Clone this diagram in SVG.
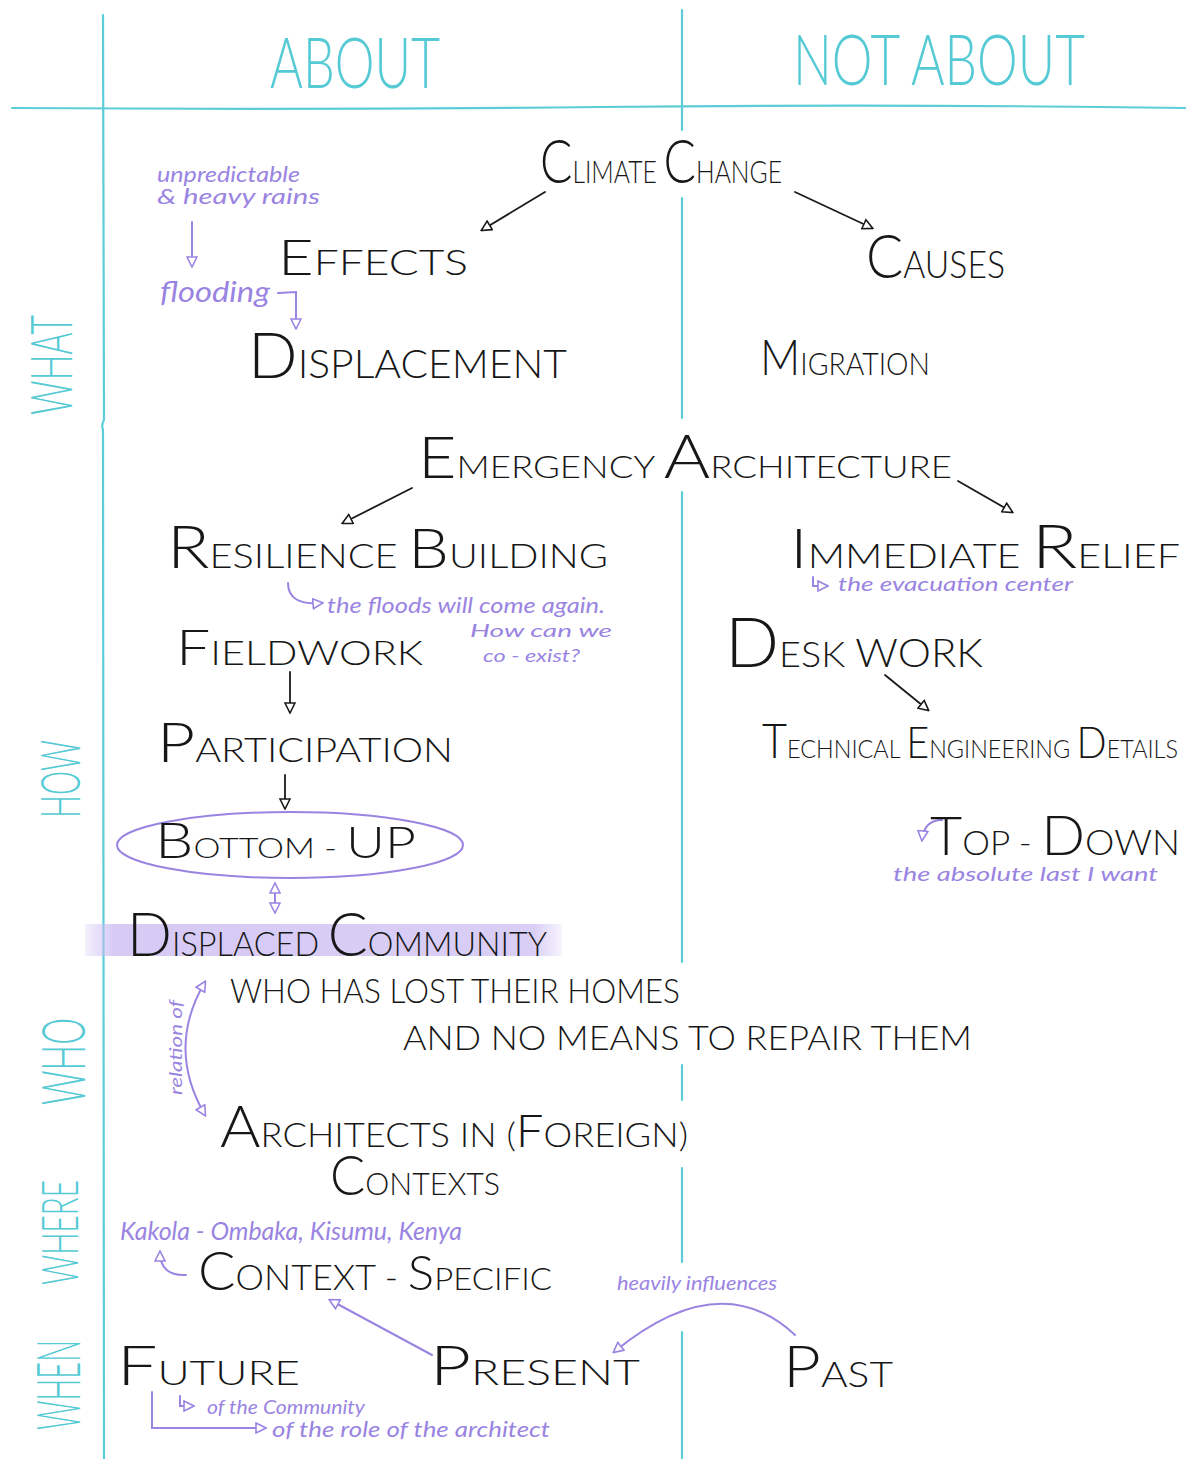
<svg xmlns="http://www.w3.org/2000/svg" width="1189" height="1459" viewBox="0 0 1189 1459">
<style>
.k{font-family:Lato,"Open Sans","DejaVu Sans",sans-serif;font-weight:300;fill:#171717}
.p{font-family:Lato,"Open Sans","DejaVu Sans",sans-serif;font-weight:400;font-style:italic;fill:#9a84e2}
.c{font-family:Lato,"Open Sans","DejaVu Sans",sans-serif;font-weight:300;fill:#55cad5}
.grid{stroke:#5ccdd7;stroke-width:2.2;fill:none;stroke-linecap:round}
.ak{stroke:#1a1a1a;stroke-width:1.8;fill:none;stroke-linecap:round}
.ap{stroke:#9a84e2;stroke-width:2;fill:none;stroke-linecap:round}
</style>
<defs>
<marker id="hk" viewBox="0 0 12 12" refX="10" refY="6" markerWidth="12" markerHeight="12" markerUnits="userSpaceOnUse" orient="auto">
<path d="M1,1 L11,6 L1,11 z" fill="#fff" stroke="#1a1a1a" stroke-width="1.6"/>
</marker>
<marker id="hp" viewBox="0 0 12 12" refX="10" refY="6" markerWidth="12" markerHeight="12" markerUnits="userSpaceOnUse" orient="auto-start-reverse">
<path d="M1,1 L11,6 L1,11 z" fill="#fff" stroke="#9a84e2" stroke-width="1.6"/>
</marker>
<linearGradient id="hl" x1="0" x2="1" y1="0" y2="0">
<stop offset="0" stop-color="#c9b9f2" stop-opacity="0.2"/>
<stop offset="0.06" stop-color="#c9b9f2" stop-opacity="0.75"/>
<stop offset="0.94" stop-color="#c9b9f2" stop-opacity="0.7"/>
<stop offset="1" stop-color="#c9b9f2" stop-opacity="0.15"/>
</linearGradient>
</defs>
<rect width="1189" height="1459" fill="#fff"/>

<g id="grid">
<path class="grid" d="M12,108 Q300,110 600,107 T1185,108"/>
<path class="grid" d="M103,15 L104,420 Q101,425 103,430 L104,1459"/>
<path class="grid" d="M682,10 L682,130 M682,198 L682,418 M682,492 L682,962 M682,1065 L682,1100 M682,1168 L682,1262 M682,1332 L682,1459"/>
</g>

<g id="headers">
<text class="c" x="270" y="88" font-size="70" textLength="170" lengthAdjust="spacingAndGlyphs">ABOUT</text>
<text class="c" x="793" y="85" font-size="70" textLength="292" lengthAdjust="spacingAndGlyphs">NOT ABOUT</text>
</g>

<g id="rows">
<text class="c" transform="translate(72,415) rotate(-90)" font-size="58" textLength="100" lengthAdjust="spacingAndGlyphs">WHAT</text>
<text class="c" transform="translate(80,818) rotate(-90)" font-size="56" textLength="78" lengthAdjust="spacingAndGlyphs">HOW</text>
<text class="c" transform="translate(85,1105) rotate(-90)" font-size="62" textLength="87" lengthAdjust="spacingAndGlyphs">WHO</text>
<text class="c" transform="translate(78,1285) rotate(-90)" font-size="52" textLength="105" lengthAdjust="spacingAndGlyphs">WHERE</text>
<text class="c" transform="translate(80,1430) rotate(-90)" font-size="62" textLength="90" lengthAdjust="spacingAndGlyphs">WHEN</text>
</g>

<rect id="highlight" x="85" y="924" width="477" height="32" fill="url(#hl)"/>

<g id="connectors">
<line class="ak" x1="545" y1="192" x2="482" y2="230" marker-end="url(#hk)"/>
<line class="ak" x1="795" y1="192" x2="872" y2="228" marker-end="url(#hk)"/>
<line class="ak" x1="412" y1="488" x2="343" y2="523" marker-end="url(#hk)"/>
<line class="ak" x1="958" y1="481" x2="1012" y2="512" marker-end="url(#hk)"/>
<line class="ak" x1="290" y1="672" x2="290" y2="712" marker-end="url(#hk)"/>
<line class="ak" x1="285" y1="775" x2="285" y2="808" marker-end="url(#hk)"/>
<line class="ak" x1="885" y1="675" x2="928" y2="710" marker-end="url(#hk)"/>
<line class="ap" x1="192" y1="222" x2="192" y2="266" marker-end="url(#hp)"/>
<path class="ap" d="M278,293 L296,292 L296,328" marker-end="url(#hp)"/>
<path class="ap" d="M288,583 Q288,606 322,603" marker-end="url(#hp)"/>
<path class="ap" d="M813,577 L813,586 L827,586" marker-end="url(#hp)" stroke-width="1.6"/>
<path class="ap" d="M942,820 Q924,820 922,840" marker-end="url(#hp)"/>
<line class="ap" x1="275" y1="884" x2="275" y2="912" marker-start="url(#hp)" marker-end="url(#hp)"/>
<path class="ap" d="M205,982 Q166,1048 205,1115" marker-start="url(#hp)" marker-end="url(#hp)"/>
<path class="ap" d="M186,1275 Q160,1276 160,1252" marker-end="url(#hp)"/>
<line class="ap" x1="432" y1="1355" x2="330" y2="1300" marker-end="url(#hp)"/>
<path class="ap" d="M795,1335 Q720,1265 614,1352" marker-end="url(#hp)"/>
<path class="ap" d="M152,1392 L152,1428 L265,1428" marker-end="url(#hp)"/>
<path class="ap" d="M180,1396 L180,1406 L193,1406" marker-end="url(#hp)" stroke-width="1.6"/>
</g>

<g id="climate-change"><text class="k" x="540" y="183" textLength="242" lengthAdjust="spacingAndGlyphs"><tspan font-size="62">C</tspan><tspan font-size="32">LIMATE </tspan><tspan font-size="62">C</tspan><tspan font-size="32">HANGE</tspan></text></g>
<g id="effects"><text class="k" x="278" y="275" textLength="190" lengthAdjust="spacingAndGlyphs"><tspan font-size="50">E</tspan><tspan font-size="36">FFECTS</tspan></text></g>
<g id="causes"><text class="k" x="866" y="278" textLength="139" lengthAdjust="spacingAndGlyphs"><tspan font-size="62">C</tspan><tspan font-size="38">AUSES</tspan></text></g>
<g id="rains-note">
<text class="p" x="157" y="182" font-size="22" textLength="143" lengthAdjust="spacingAndGlyphs">unpredictable</text>
<text class="p" x="157" y="204" font-size="22" textLength="163" lengthAdjust="spacingAndGlyphs">&amp; heavy rains</text>
<text class="p" x="160" y="302" font-size="28" textLength="110" lengthAdjust="spacingAndGlyphs">flooding</text>
</g>
<g id="displacement"><text class="k" x="248" y="378" textLength="319" lengthAdjust="spacingAndGlyphs"><tspan font-size="64">D</tspan><tspan font-size="40">ISPLACEMENT</tspan></text></g>
<g id="migration"><text class="k" x="760" y="375" textLength="170" lengthAdjust="spacingAndGlyphs"><tspan font-size="50">M</tspan><tspan font-size="32">IGRATION</tspan></text></g>
<g id="emergency-architecture"><text class="k" x="418" y="478" textLength="534" lengthAdjust="spacingAndGlyphs"><tspan font-size="58">E</tspan><tspan font-size="32">MERGENCY </tspan><tspan font-size="62">A</tspan><tspan font-size="32">RCHITECTURE</tspan></text></g>
<g id="resilience-building">
<text class="k" x="167" y="568" textLength="441" lengthAdjust="spacingAndGlyphs"><tspan font-size="60">R</tspan><tspan font-size="34">ESILIENCE </tspan><tspan font-size="55">B</tspan><tspan font-size="34">UILDING</tspan></text>
<text class="p" x="327" y="613" font-size="22" textLength="278" lengthAdjust="spacingAndGlyphs">the floods will come again.</text>
<text class="p" x="470" y="637" font-size="18" textLength="142" lengthAdjust="spacingAndGlyphs">How can we</text>
<text class="p" x="483" y="662" font-size="18" textLength="97" lengthAdjust="spacingAndGlyphs">co - exist?</text>
</g>
<g id="immediate-relief">
<text class="k" x="790" y="568" textLength="390" lengthAdjust="spacingAndGlyphs"><tspan font-size="56">I</tspan><tspan font-size="34">MMEDIATE </tspan><tspan font-size="62">R</tspan><tspan font-size="34">ELIEF</tspan></text>
<text class="p" x="838" y="591" font-size="20" textLength="235" lengthAdjust="spacingAndGlyphs">the evacuation center</text>
</g>
<g id="fieldwork"><text class="k" x="176" y="665" textLength="247" lengthAdjust="spacingAndGlyphs"><tspan font-size="50">F</tspan><tspan font-size="34">IELDWORK</tspan></text></g>
<g id="desk-work"><text class="k" x="725" y="667" textLength="258" lengthAdjust="spacingAndGlyphs"><tspan font-size="68">D</tspan><tspan font-size="36">ESK </tspan><tspan font-size="40">WORK</tspan></text></g>
<g id="participation"><text class="k" x="157" y="762" textLength="296" lengthAdjust="spacingAndGlyphs"><tspan font-size="55">P</tspan><tspan font-size="33">ARTICIPATION</tspan></text></g>
<g id="technical-details"><text class="k" x="762" y="758" textLength="416" lengthAdjust="spacingAndGlyphs"><tspan font-size="48">T</tspan><tspan font-size="26">ECHNICAL </tspan><tspan font-size="44">E</tspan><tspan font-size="26">NGINEERING </tspan><tspan font-size="44">D</tspan><tspan font-size="26">ETAILS</tspan></text></g>
<g id="bottom-up">
<ellipse cx="290" cy="845" rx="173" ry="33" fill="none" stroke="#9a84e2" stroke-width="2"/>
<text class="k" x="155" y="858" textLength="261" lengthAdjust="spacingAndGlyphs"><tspan font-size="50">B</tspan><tspan font-size="28">OTTOM - </tspan><tspan font-size="44">UP</tspan></text>
</g>
<g id="top-down">
<text class="k" x="930" y="855" textLength="250" lengthAdjust="spacingAndGlyphs"><tspan font-size="54">T</tspan><tspan font-size="34">OP - </tspan><tspan font-size="56">D</tspan><tspan font-size="36">OWN</tspan></text>
<text class="p" x="893" y="881" font-size="20" textLength="265" lengthAdjust="spacingAndGlyphs">the absolute last I want</text>
</g>
<g id="displaced-community"><text class="k" x="127" y="956" textLength="420" lengthAdjust="spacingAndGlyphs"><tspan font-size="62">D</tspan><tspan font-size="34">ISPLACED </tspan><tspan font-size="62">C</tspan><tspan font-size="34">OMMUNITY</tspan></text></g>
<g id="who-lost">
<text class="k" x="230" y="1003" font-size="34" textLength="450" lengthAdjust="spacingAndGlyphs">WHO HAS LOST THEIR HOMES</text>
<text class="k" x="403" y="1050" font-size="34" textLength="569" lengthAdjust="spacingAndGlyphs">AND NO MEANS TO REPAIR THEM</text>
</g>
<g id="relation-note"><text class="p" transform="translate(182,1095) rotate(-90)" font-size="17" textLength="95" lengthAdjust="spacingAndGlyphs">relation of</text></g>
<g id="architects">
<text class="k" x="220" y="1147" textLength="468" lengthAdjust="spacingAndGlyphs"><tspan font-size="58">A</tspan><tspan font-size="34">RCHITECTS IN (</tspan><tspan font-size="46">F</tspan><tspan font-size="34">OREIGN)</tspan></text>
<text class="k" x="330" y="1195" textLength="170" lengthAdjust="spacingAndGlyphs"><tspan font-size="55">C</tspan><tspan font-size="32">ONTEXTS</tspan></text>
</g>
<g id="context-specific">
<text class="p" x="120" y="1240" font-size="25" textLength="342" lengthAdjust="spacingAndGlyphs">Kakola - Ombaka, Kisumu, Kenya</text>
<text class="k" x="198" y="1290" textLength="354" lengthAdjust="spacingAndGlyphs"><tspan font-size="54">C</tspan><tspan font-size="35">ONTEXT - </tspan><tspan font-size="48">S</tspan><tspan font-size="32">PECIFIC</tspan></text>
</g>
<g id="heavily"><text class="p" x="617" y="1290" font-size="20" textLength="160" lengthAdjust="spacingAndGlyphs">heavily influences</text></g>
<g id="future">
<text class="k" x="117" y="1385" textLength="183" lengthAdjust="spacingAndGlyphs"><tspan font-size="55">F</tspan><tspan font-size="34">UTURE</tspan></text>
<text class="p" x="207" y="1414" font-size="20" textLength="158" lengthAdjust="spacingAndGlyphs">of the Community</text>
<text class="p" x="272" y="1437" font-size="22" textLength="278" lengthAdjust="spacingAndGlyphs">of the role of the architect</text>
</g>
<g id="present"><text class="k" x="430" y="1385" textLength="210" lengthAdjust="spacingAndGlyphs"><tspan font-size="55">P</tspan><tspan font-size="36">RESENT</tspan></text></g>
<g id="past"><text class="k" x="783" y="1387" textLength="110" lengthAdjust="spacingAndGlyphs"><tspan font-size="58">P</tspan><tspan font-size="36">AST</tspan></text></g>
</svg>
